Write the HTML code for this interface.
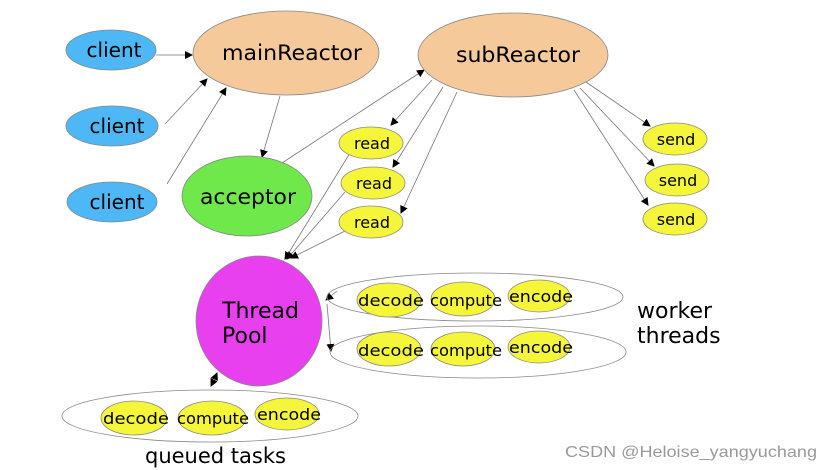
<!DOCTYPE html>
<html><head><meta charset="utf-8"><style>
html,body{margin:0;padding:0;background:#fff;}
svg{display:block;font-family:"DejaVu Sans","Liberation Sans",sans-serif;}
</style></head><body>
<svg width="839" height="470" viewBox="0 0 839 470" xmlns="http://www.w3.org/2000/svg">
<defs>
<marker id="a" markerWidth="8" markerHeight="8" refX="7" refY="4" orient="auto" markerUnits="userSpaceOnUse">
<path d="M0,0 L8,4 L0,8 z" fill="#000"/></marker>
</defs>
<g stroke="#777" stroke-width="0.8" fill="none" marker-end="url(#a)">
<line x1="156" y1="55" x2="192" y2="55"/>
<line x1="165" y1="124" x2="207" y2="79"/>
<line x1="167" y1="184" x2="226" y2="88"/>
<line x1="280" y1="96" x2="262" y2="157"/>
<line x1="282" y1="163" x2="424" y2="70"/>
<line x1="432" y1="80" x2="391" y2="125"/>
<line x1="443" y1="87" x2="393" y2="167"/>
<line x1="457" y1="92" x2="401" y2="213"/>
<line x1="586" y1="82" x2="650" y2="126"/>
<line x1="580" y1="88" x2="654" y2="166"/>
<line x1="574" y1="90" x2="648" y2="205"/>
<line x1="350" y1="153" x2="285" y2="259"/>
<line x1="345" y1="192" x2="287" y2="259"/>
<line x1="345" y1="231" x2="291" y2="258"/>
<line x1="337" y1="291" x2="326" y2="300"/>
<line x1="327" y1="304" x2="331" y2="351"/>
<line x1="214" y1="380" x2="217" y2="373"/>
<line x1="213" y1="382" x2="211" y2="386"/>
</g>
<g stroke="#888" stroke-width="0.8">
<ellipse cx="111" cy="50" rx="45" ry="20" fill="#4db8f5"/>
<ellipse cx="112" cy="126" rx="46" ry="20" fill="#4db8f5"/>
<ellipse cx="112" cy="202" rx="45" ry="20" fill="#4db8f5"/>
<ellipse cx="286" cy="53" rx="93" ry="42" fill="#f5c99a"/>
<ellipse cx="513" cy="55" rx="95" ry="42" fill="#f5c99a"/>
<ellipse cx="247" cy="196" rx="65" ry="40" fill="#6ee84a"/>
<ellipse cx="371" cy="143" rx="32" ry="16" fill="#f5f53a"/>
<ellipse cx="373" cy="183" rx="32" ry="16" fill="#f5f53a"/>
<ellipse cx="371" cy="222" rx="32" ry="16" fill="#f5f53a"/>
<ellipse cx="675" cy="139" rx="32" ry="16" fill="#f5f53a"/>
<ellipse cx="677" cy="180" rx="32" ry="16" fill="#f5f53a"/>
<ellipse cx="675" cy="219" rx="32" ry="16" fill="#f5f53a"/>
<ellipse cx="259" cy="321" rx="63" ry="65" fill="#e840ee"/>
<ellipse cx="475" cy="297" rx="148" ry="24" fill="none"/>
<ellipse cx="478" cy="352" rx="148" ry="26" fill="none"/>
<ellipse cx="210" cy="416" rx="148" ry="26" fill="none"/>
<g fill="#f5f53a">
<ellipse cx="389" cy="300" rx="32" ry="17"/>
<ellipse cx="463" cy="299" rx="32" ry="17"/>
<ellipse cx="539" cy="296" rx="31" ry="16"/>
<ellipse cx="389" cy="349" rx="32" ry="17"/>
<ellipse cx="463" cy="349" rx="32" ry="17"/>
<ellipse cx="539" cy="347" rx="31" ry="16"/>
<ellipse cx="134" cy="418" rx="33" ry="17"/>
<ellipse cx="212" cy="418" rx="34" ry="17"/>
<ellipse cx="287" cy="414" rx="32" ry="16"/>
</g>
</g>
<g fill="#000" text-anchor="middle">
<text x="114" y="57" font-size="20">client</text>
<text x="117" y="133" font-size="20">client</text>
<text x="117" y="209" font-size="20">client</text>
<text x="292" y="60" font-size="21" textLength="140" lengthAdjust="spacingAndGlyphs">mainReactor</text>
<text x="518" y="62" font-size="21" textLength="124" lengthAdjust="spacingAndGlyphs">subReactor</text>
<text x="248" y="204" font-size="21" textLength="96" lengthAdjust="spacingAndGlyphs">acceptor</text>
<text x="372" y="149" font-size="16">read</text>
<text x="374" y="189" font-size="16">read</text>
<text x="372" y="228" font-size="16">read</text>
<text x="676" y="145" font-size="16">send</text>
<text x="678" y="186" font-size="16">send</text>
<text x="676" y="225" font-size="16">send</text>
<text x="391" y="306" font-size="16" textLength="66" lengthAdjust="spacingAndGlyphs">decode</text>
<text x="466" y="306" font-size="16" textLength="72" lengthAdjust="spacingAndGlyphs">compute</text>
<text x="541" y="302" font-size="16" textLength="64" lengthAdjust="spacingAndGlyphs">encode</text>
<text x="391" y="356" font-size="16" textLength="66" lengthAdjust="spacingAndGlyphs">decode</text>
<text x="466" y="356" font-size="16" textLength="72" lengthAdjust="spacingAndGlyphs">compute</text>
<text x="541" y="353" font-size="16" textLength="64" lengthAdjust="spacingAndGlyphs">encode</text>
<text x="136" y="424" font-size="16" textLength="66" lengthAdjust="spacingAndGlyphs">decode</text>
<text x="213" y="424" font-size="16" textLength="72" lengthAdjust="spacingAndGlyphs">compute</text>
<text x="289" y="420" font-size="16" textLength="64" lengthAdjust="spacingAndGlyphs">encode</text>
</g>
<g fill="#000" font-size="22">
<text x="222" y="318">Thread</text>
<text x="222" y="343">Pool</text>
<text x="637" y="318" font-size="22">worker</text>
<text x="637" y="343" font-size="22">threads</text>
<text x="145" y="463" font-size="21">queued tasks</text>
</g>
<text x="565" y="457" font-size="16" fill="#999" font-family="Liberation Sans, sans-serif" textLength="252" lengthAdjust="spacingAndGlyphs">CSDN @Heloise_yangyuchang</text>
</svg>
</body></html>
